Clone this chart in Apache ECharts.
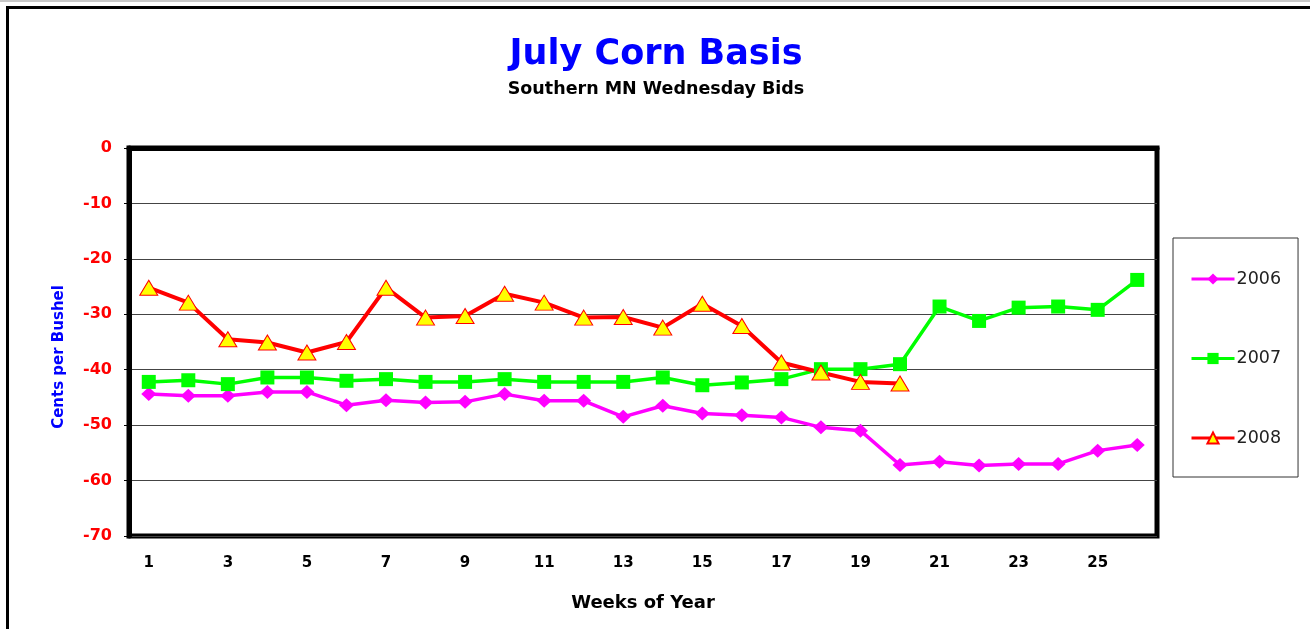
<!DOCTYPE html>
<html>
<head>
<meta charset="utf-8">
<script src="https://cdn.jsdelivr.net/npm/echarts@6/dist/echarts.min.js"></script>
<style>
  html, body { margin: 0; padding: 0; background: #fff; }
  #chart { width: 1310px; height: 629px; }
</style>
</head>
<body>
<div id="chart"></div>
<script>
const weeks = ['1', '2', '3', '4', '5', '6', '7', '8', '9', '10', '11', '12', '13',
  '14', '15', '16', '17', '18', '19', '20', '21', '22', '23', '24', '25', '26']

const basis2006 = [-44.4, -44.7, -44.7, -44.0, -44.0, -46.4, -45.5, -45.9, -45.8, -44.4, -45.6, -45.6, -48.5,
  -46.5, -47.9, -48.2, -48.6, -50.4, -51.0, -57.2, -56.6, -57.3, -57.0, -57.0, -54.6, -53.6]

const basis2007 = [-42.2, -41.9, -42.6, -41.4, -41.4, -42.0, -41.7, -42.2, -42.2, -41.7, -42.2, -42.2, -42.2,
  -41.4, -42.8, -42.3, -41.7, -39.9, -39.9, -39.0, -28.6, -31.2, -28.8, -28.6, -29.2, -23.8]

const basis2008 = [-25.2, -27.9, -34.5, -35.1, -36.9, -35.0, -25.2, -30.6, -30.3, -26.3, -27.9, -30.6, -30.5,
  -32.4, -28.1, -32.1, -38.7, -40.5, -42.2, -42.5]

// the original text is stretched sideways, DejaVu is the wider face
const font = 'DejaVu Sans, Verdana, sans-serif'

const chart = echarts.init(document.getElementById('chart'))
chart.setOption({
  animation: false,
  backgroundColor: '#fff',
  textStyle: { fontFamily: font },
  title: {
    text: 'July Corn Basis',
    subtext: 'Southern MN Wednesday Bids',
    left: 651,
    textAlign: 'center',
    top: 32,
    itemGap: 8,
    textStyle: { color: '#0000ff', fontSize: 35, fontWeight: 'bold', fontFamily: font },
    subtextStyle: { color: '#000', fontSize: 17.5, fontWeight: 'bold', fontFamily: font }
  },
  graphic: [
    { type: 'rect', shape: { x: 0, y: 0, width: 1310, height: 2 }, style: { fill: '#c8c8c8' } },
    { type: 'rect', shape: { x: 7.5, y: 7.5, width: 1400, height: 700 }, style: { fill: 'none', stroke: '#000', lineWidth: 3 } }
  ],
  legend: {
    orient: 'vertical',
    left: 1173,
    top: 238,
    padding: [32, 17, 30, 17],
    itemGap: 61.5,
    itemWidth: 43,
    itemHeight: 14,
    borderColor: '#333',
    borderWidth: 1,
    lineStyle: { width: 3 },
    textStyle: { color: '#222', fontSize: 17.5, fontFamily: font, padding: [0, 0, 0, -3] },
    data: ['2006', '2007', '2008']
  },
  grid: {
    left: 129,
    right: 153,
    top: 148,
    bottom: 93,
    show: true,
    borderColor: '#000',
    borderWidth: 5
  },
  xAxis: {
    type: 'category',
    data: weeks,
    name: 'Weeks of Year',
    nameLocation: 'middle',
    nameGap: 58,
    nameTextStyle: { color: '#000', fontSize: 18, fontWeight: 'bold', fontFamily: font },
    axisLine: { lineStyle: { color: '#000', width: 5 } },
    axisTick: { show: false },
    axisLabel: { interval: 1, color: '#000', fontSize: 15, fontWeight: 'bold', margin: 20, fontFamily: font },
    splitLine: { show: false }
  },
  yAxis: {
    type: 'value',
    min: -70,
    max: 0,
    interval: 10,
    name: 'Cents per Bushel',
    nameLocation: 'middle',
    nameGap: 62,
    nameTextStyle: { color: '#0000ff', fontSize: 15, fontWeight: 'bold', fontFamily: font, padding: [0, 30, 0, 0] },
    axisLine: { show: true, lineStyle: { color: '#000', width: 5 } },
    axisTick: { show: true, length: 5, lineStyle: { color: '#000', width: 1 } },
    axisLabel: { color: '#ff0000', fontSize: 16, fontWeight: 'bold', margin: 17, fontFamily: font },
    splitLine: { lineStyle: { color: '#444', width: 1 } }
  },
  series: [
    {
      name: '2006',
      type: 'line',
      data: basis2006,
      symbol: 'diamond',
      symbolSize: [15, 14],
      lineStyle: { color: '#ff00ff', width: 3.5 },
      itemStyle: { color: '#ff00ff' }
    },
    {
      name: '2007',
      type: 'line',
      data: basis2007,
      symbol: 'rect',
      symbolSize: 14,
      lineStyle: { color: '#00ff00', width: 3.5 },
      itemStyle: { color: '#00ff00' }
    },
    {
      name: '2008',
      type: 'line',
      data: basis2008,
      symbol: 'triangle',
      symbolSize: [18, 15],
      lineStyle: { color: '#ff0000', width: 4 },
      itemStyle: { color: '#ffff00', borderColor: '#ff0000', borderWidth: 1 }
    }
  ]
})
</script>
</body>
</html>
